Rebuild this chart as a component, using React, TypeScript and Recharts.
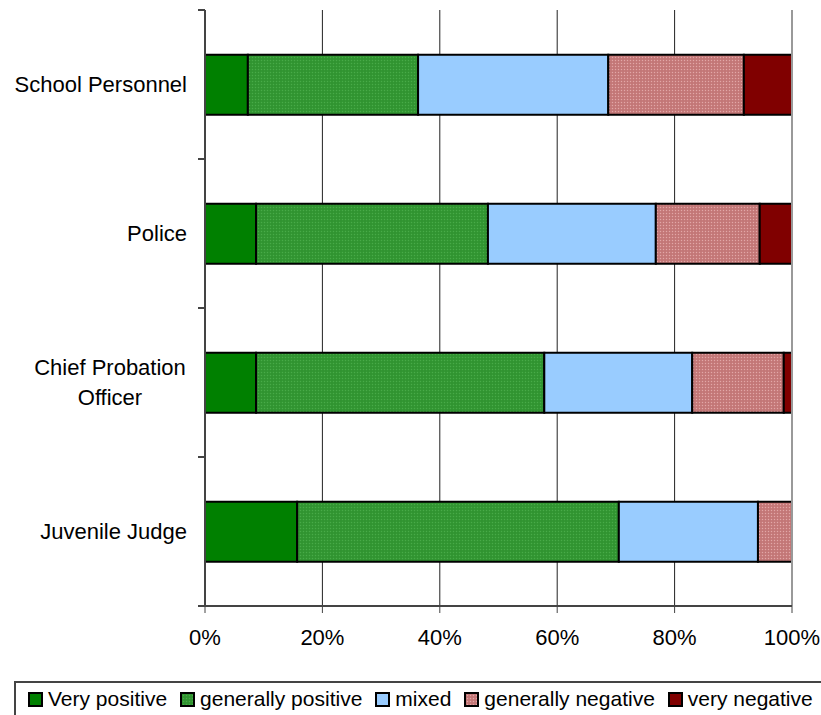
import React from 'react';
import { BarChart, Bar, XAxis, YAxis, CartesianGrid, Legend, ReferenceLine } from 'recharts';

const categories = ['School Personnel', 'Police', 'Chief Probation Officer', 'Juvenile Judge'];
const veryPositive = [7.3, 8.7, 8.7, 15.7];
const generallyPositive = [29.0, 39.5, 49.1, 54.8];
const mixed = [32.4, 28.6, 25.2, 23.7];
const generallyNegative = [23.1, 17.7, 15.6, 5.8];
const veryNegative = [8.2, 5.5, 1.4, 0];
const xTicks = [0, 20, 40, 60, 80, 100];

const data = categories.map((name, i) => ({
  name,
  vp: veryPositive[i],
  gp: generallyPositive[i],
  mx: mixed[i],
  gn: generallyNegative[i],
  vn: veryNegative[i],
}));

const series = [
  { key: 'vp', name: 'Very positive', fill: '#008000' },
  { key: 'gp', name: 'generally positive', fill: 'url(#dotGreen)' },
  { key: 'mx', name: 'mixed', fill: '#99CCFF' },
  { key: 'gn', name: 'generally negative', fill: 'url(#hatchPink)' },
  { key: 'vn', name: 'very negative', fill: '#800000' },
];

const FONT = '"Liberation Sans", Arial, sans-serif';
const TICK_SIZE = 7;
const TICK_MARGIN = 11;

const wrapLabel = (s: string) => {
  if (s.length <= 16) return [s];
  const words = s.split(' ');
  const last = words.pop() as string;
  return [words.join(' '), last];
};

const CategoryTick = (props: any) => {
  const { x, y, payload, index } = props;
  const half = payload && payload.offset ? payload.offset : 74.5;
  const lines = wrapLabel(String(payload.value));
  const lx1 = x + TICK_MARGIN;
  const lx2 = lx1 + TICK_SIZE;
  return (
    <g>
      <line x1={lx1} x2={lx2} y1={y - half} y2={y - half} stroke="#444" strokeWidth={2} />
      {index === categories.length - 1 && (
        <line x1={lx1} x2={lx2} y1={y + half} y2={y + half} stroke="#444" strokeWidth={2} />
      )}
      {lines.length === 1 ? (
        <text x={x} y={y} dy="0.35em" textAnchor="end" fontSize={22} fontFamily={FONT} fill="#000">
          {lines[0]}
        </text>
      ) : (
        <text x={x - 77} y={y} textAnchor="middle" fontSize={22} fontFamily={FONT} fill="#000">
          {lines.map((l, i) => (
            <tspan key={i} x={x - 77} dy={i === 0 ? '-0.35em' : 30}>
              {l}
            </tspan>
          ))}
        </text>
      )}
    </g>
  );
};

const LegendBox = () => (
  <div
    style={{
      display: 'flex',
      alignItems: 'center',
      borderTop: '2px solid #444',
      borderLeft: '2px solid #444',
      padding: '4px 0 6px 12px',
      fontFamily: FONT,
      fontSize: 21,
      whiteSpace: 'nowrap',
    }}
  >
    {series.map((s) => (
      <div key={s.key} style={{ display: 'flex', alignItems: 'center', marginRight: 13 }}>
        <svg width={15} height={15} style={{ marginRight: 5 }}>
          <rect x={1} y={1} width={13} height={13} fill={s.fill} stroke="#000" strokeWidth={2} />
        </svg>
        <span>{s.name}</span>
      </div>
    ))}
  </div>
);

export default function App() {
  return (
    <div style={{ position: 'absolute', left: 0, top: 0 }}>
      <BarChart
        width={821}
        height={715}
        data={data}
        layout="vertical"
        margin={{ top: 10, right: 29, bottom: 60, left: 0 }}
        barCategoryGap="30%"
      >
        <defs>
          <pattern id="dotGreen" width={3} height={3} patternUnits="userSpaceOnUse">
            <rect width={3} height={3} fill="#339933" />
            <rect x={0} y={0} width={1} height={1} fill="#4aa84a" />
            <rect x={1.5} y={1.5} width={1} height={1} fill="#2a822a" />
          </pattern>
          <pattern id="hatchPink" width={3} height={3} patternUnits="userSpaceOnUse">
            <rect width={3} height={3} fill="#c87c7c" />
            <rect x={0} y={0} width={1} height={1} fill="#e0a8a8" />
            <rect x={1.5} y={1.5} width={1} height={1} fill="#b06666" />
          </pattern>
        </defs>
        <CartesianGrid horizontal={false} stroke="#222" strokeWidth={1} />
        <ReferenceLine x={100} stroke="#999" strokeWidth={2} />
        <XAxis
          type="number"
          domain={[0, 100]}
          ticks={xTicks}
          tickFormatter={(v: number) => `${v}%`}
          axisLine={{ stroke: '#444', strokeWidth: 2 }}
          tickLine={{ stroke: '#444' }}
          tickSize={TICK_SIZE}
          tickMargin={16}
          height={49}
          tick={{ fill: '#000', fontSize: 22, fontFamily: FONT }}
          interval={0}
        />
        <XAxis
          xAxisId="top"
          orientation="top"
          type="number"
          domain={[0, 100]}
          height={0}
          tick={false}
          tickLine={false}
          axisLine={{ stroke: '#999', strokeWidth: 2 }}
        />
        <YAxis
          type="category"
          dataKey="name"
          width={205}
          axisLine={{ stroke: '#444', strokeWidth: 2 }}
          tickLine={false}
          tickSize={TICK_SIZE}
          tickMargin={TICK_MARGIN}
          tick={<CategoryTick />}
          interval={0}
        />
        <Legend
          layout="vertical"
          align="center"
          verticalAlign="middle"
          content={<LegendBox />}
          wrapperStyle={{ left: 14, top: 681, width: 900 }}
        />
        {series.map((s) => (
          <Bar
            key={s.key}
            dataKey={s.key}
            name={s.name}
            stackId="a"
            fill={s.fill}
            stroke="#000"
            strokeWidth={2}
            isAnimationActive={false}
          />
        ))}
      </BarChart>
    </div>
  );
}
